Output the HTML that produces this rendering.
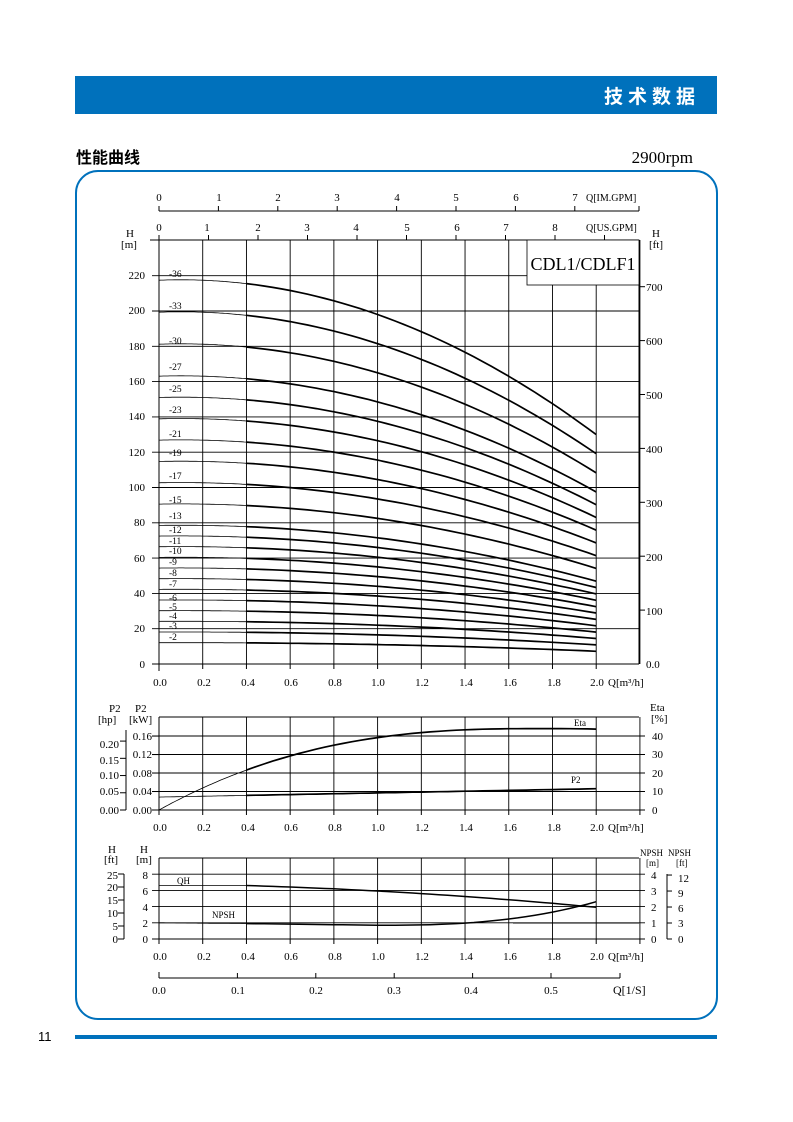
<!DOCTYPE html>
<html><head><meta charset="utf-8"><style>
body{margin:0;background:#fff;}
svg{display:block;}
</style></head><body>
<svg id="s" width="793" height="1122" viewBox="0 0 793 1122" xmlns="http://www.w3.org/2000/svg" font-family="Liberation Serif, serif" font-size="11" fill="#000">
<rect x="75" y="76" width="642" height="38" fill="#0071BC"/>
<text x="700" y="103" text-anchor="end" fill="#fff" font-family="Liberation Sans, Noto Sans CJK SC, sans-serif" font-size="19" font-weight="bold" letter-spacing="5">技术数据</text>
<text x="76" y="163" font-family="Liberation Sans, Noto Sans CJK SC, sans-serif" font-size="16" font-weight="bold">性能曲线</text>
<text x="693" y="163" text-anchor="end" font-size="17">2900rpm</text>
<rect x="76" y="171" width="641" height="848" rx="22" fill="none" stroke="#0071BC" stroke-width="2"/>
<rect x="75" y="1035" width="642" height="4" fill="#0071BC"/>
<text x="38" y="1041" font-family="Liberation Sans, sans-serif" font-size="13">11</text>
<g id="g"></g>
<g font-size="11" text-anchor="middle">
<text x="159" y="201">0</text><text x="219" y="201">1</text><text x="278" y="201">2</text><text x="337" y="201">3</text><text x="397" y="201">4</text><text x="456" y="201">5</text><text x="516" y="201">6</text><text x="575" y="201">7</text>
<text x="159" y="231">0</text><text x="207" y="231">1</text><text x="258" y="231">2</text><text x="307" y="231">3</text><text x="356" y="231">4</text><text x="407" y="231">5</text><text x="457" y="231">6</text><text x="506" y="231">7</text><text x="555" y="231">8</text>
</g>
<text x="586" y="201" font-size="10">Q[IM.GPM]</text>
<text x="586" y="231" font-size="10">Q[US.GPM]</text>
<text x="130" y="237" font-size="11" text-anchor="middle">H</text><text x="129" y="248" font-size="11" text-anchor="middle">[m]</text>
<text x="656" y="237" font-size="11" text-anchor="middle">H</text><text x="656" y="248" font-size="11" text-anchor="middle">[ft]</text>
<g font-size="11" text-anchor="end">
<text x="145" y="279">220</text><text x="145" y="314">200</text><text x="145" y="350">180</text><text x="145" y="385">160</text><text x="145" y="420">140</text><text x="145" y="456">120</text><text x="145" y="491">100</text><text x="145" y="526">80</text><text x="145" y="562">60</text><text x="145" y="597">40</text><text x="145" y="632">20</text><text x="145" y="668">0</text>
</g>
<g font-size="11">
<text x="646" y="291">700</text><text x="646" y="345">600</text><text x="646" y="399">500</text><text x="646" y="453">400</text><text x="646" y="507">300</text><text x="646" y="561">200</text><text x="646" y="615">100</text><text x="646" y="668">0.0</text>
</g>
<g font-size="9.5">
<text x="169" y="277">-36</text><text x="169" y="309">-33</text><text x="169" y="344">-30</text><text x="169" y="370">-27</text><text x="169" y="392">-25</text><text x="169" y="413">-23</text><text x="169" y="437">-21</text><text x="169" y="456">-19</text><text x="169" y="479">-17</text><text x="169" y="503">-15</text><text x="169" y="519">-13</text><text x="169" y="533">-12</text><text x="169" y="544">-11</text><text x="169" y="554">-10</text><text x="169" y="565">-9</text><text x="169" y="576">-8</text><text x="169" y="587">-7</text><text x="169" y="601">-6</text><text x="169" y="610">-5</text><text x="169" y="619">-4</text><text x="169" y="629">-3</text><text x="169" y="640">-2</text>
</g>
<g font-size="11" text-anchor="middle">
<text x="160" y="686">0.0</text><text x="204" y="686">0.2</text><text x="248" y="686">0.4</text><text x="291" y="686">0.6</text><text x="335" y="686">0.8</text><text x="378" y="686">1.0</text><text x="422" y="686">1.2</text><text x="466" y="686">1.4</text><text x="510" y="686">1.6</text><text x="554" y="686">1.8</text><text x="597" y="686">2.0</text>
<text x="160" y="831">0.0</text><text x="204" y="831">0.2</text><text x="248" y="831">0.4</text><text x="291" y="831">0.6</text><text x="335" y="831">0.8</text><text x="378" y="831">1.0</text><text x="422" y="831">1.2</text><text x="466" y="831">1.4</text><text x="510" y="831">1.6</text><text x="554" y="831">1.8</text><text x="597" y="831">2.0</text>
<text x="160" y="960">0.0</text><text x="204" y="960">0.2</text><text x="248" y="960">0.4</text><text x="291" y="960">0.6</text><text x="335" y="960">0.8</text><text x="378" y="960">1.0</text><text x="422" y="960">1.2</text><text x="466" y="960">1.4</text><text x="510" y="960">1.6</text><text x="554" y="960">1.8</text><text x="597" y="960">2.0</text>
<text x="159" y="994">0.0</text><text x="238" y="994">0.1</text><text x="316" y="994">0.2</text><text x="394" y="994">0.3</text><text x="471" y="994">0.4</text><text x="551" y="994">0.5</text>
</g>
<text x="608" y="686">Q[m³/h]</text><text x="608" y="831">Q[m³/h]</text><text x="608" y="960">Q[m³/h]</text>
<text x="613" y="994" font-size="12">Q[1/S]</text>
<text x="109" y="712">P2</text><text x="98" y="723">[hp]</text>
<text x="135" y="712">P2</text><text x="129" y="723">[kW]</text>
<text x="650" y="711">Eta</text><text x="651" y="722">[%]</text>
<g text-anchor="end">
<text x="119" y="748">0.20</text><text x="119" y="764">0.15</text><text x="119" y="779">0.10</text><text x="119" y="795">0.05</text><text x="119" y="814">0.00</text>
<text x="152" y="740">0.16</text><text x="152" y="758">0.12</text><text x="152" y="777">0.08</text><text x="152" y="795">0.04</text><text x="152" y="814">0.00</text>
</g>
<text x="652" y="740">40</text><text x="652" y="758">30</text><text x="652" y="777">20</text><text x="652" y="795">10</text><text x="652" y="814">0</text>
<text x="574" y="726" font-size="9">Eta</text><text x="571" y="783" font-size="9">P2</text>
<text x="108" y="853">H</text><text x="104" y="863">[ft]</text>
<text x="140" y="853">H</text><text x="136" y="863">[m]</text>
<text x="640" y="856" font-size="9">NPSH</text><text x="668" y="856" font-size="9">NPSH</text>
<text x="646" y="866" font-size="9">[m]</text><text x="676" y="866" font-size="9">[ft]</text>
<g text-anchor="end">
<text x="118" y="879">25</text><text x="118" y="891">20</text><text x="118" y="904">15</text><text x="118" y="917">10</text><text x="118" y="930">5</text><text x="118" y="943">0</text>
<text x="148" y="879">8</text><text x="148" y="895">6</text><text x="148" y="911">4</text><text x="148" y="927">2</text><text x="148" y="943">0</text>
</g>
<text x="651" y="879">4</text><text x="651" y="895">3</text><text x="651" y="911">2</text><text x="651" y="927">1</text><text x="651" y="943">0</text>
<text x="678" y="882">12</text><text x="678" y="897">9</text><text x="678" y="912">6</text><text x="678" y="927">3</text><text x="678" y="943">0</text>
<text x="177" y="884" font-size="9">QH</text><text x="212" y="918" font-size="9">NPSH</text>
<g id="top"><rect x="527" y="240" width="112" height="45" fill="#fff" stroke="#000" stroke-width="0.8"/>
<text x="583" y="270" font-size="18" text-anchor="middle">CDL1/CDLF1</text></g>
</svg>
<script>
var g=document.getElementById('g'),NS='http://www.w3.org/2000/svg';
function L(x1,y1,x2,y2,w,c){var e=document.createElementNS(NS,'line');e.setAttribute('x1',x1);e.setAttribute('y1',y1);e.setAttribute('x2',x2);e.setAttribute('y2',y2);e.setAttribute('stroke',c||'#000');e.setAttribute('stroke-width',w||0.8);g.appendChild(e);}
function P(d,w){var e=document.createElementNS(NS,'path');e.setAttribute('d',d);e.setAttribute('fill','none');e.setAttribute('stroke','#000');e.setAttribute('stroke-width',w);g.appendChild(e);}
function X(q){return 159+q*218.6;}
function curve(f,a,b,w){var d='';for(var i=0;i<=40;i++){var q=a+(b-a)*i/40;d+=(i?'L':'M')+X(q).toFixed(1)+' '+f(q).toFixed(1);}P(d,w);}
L(159,211,639,211,1);for(var i=0;i<8;i++)L(159+i*59.4,211,159+i*59.4,206,1);L(639,211,639,206,1);
L(150,240,639,240,1);for(var i=0;i<10;i++)L(159+i*49.5,240,159+i*49.5,235,1);
for(var q=0;q<=2.21;q+=0.2)L(X(q),240,X(q),664,0.9);
L(639,240,639,664,1);
for(var h=20;h<=220;h+=20){var y=664-h*1.765;L(152,y,639,y,0.9);}
L(152,664,639,664,1);L(159,240,159,671,1);
for(var f=100;f<=700;f+=100){var y=664-f*0.539;L(639,y,645,y,1);}
for(var q=0;q<=2.01;q+=0.2)L(X(q),664,X(q),669,1);
var st=[36,33,30,27,25,23,21,19,17,15,13,12,11,10,9,8,7,6,5,4,3,2];
st.forEach(function(n){var f=function(q){return 664-1.765*n*(6.04+0.135*q-0.675*q*q);};curve(f,0,0.4,0.8);curve(f,0.4,2.0,1.7);});
var t=717,b=810;
for(var q=0;q<=2.21;q+=0.2){L(X(q),t,X(q),b,0.9);L(X(q),b,X(q),b+5,1);}
L(159,t,639,t,1);L(159,b,639,b,1);L(159,t,159,b,1);
for(var e=10;e<=40;e+=10){var y=b-e*1.85;L(152,y,645,y,0.9);}
L(152,b,159,b,1);L(639,b,645,b,1);
for(var k=0;k<=0.16;k+=0.04)L(152,b-k*462,159,b-k*462,1);
L(126,730,126,810,1);for(var hp=0;hp<=0.2;hp+=0.05)L(120,810-hp*0.7457*462,126,810-hp*0.7457*462,1);
var eta=function(q){var v=44*(1-Math.pow(Math.abs(1-q/1.75),2.6));return b-v*1.85;};
curve(eta,0,0.4,0.8);
curve(eta,0.4,2.0,1.7);
curve(function(q){return b-(0.028+0.009*q)*462;},0,0.4,0.8);
curve(function(q){return b-(0.028+0.009*q)*462;},0.4,2.0,1.7);
t=858;b=939;
for(var q=0;q<=2.21;q+=0.2){L(X(q),t,X(q),b,0.9);L(X(q),b,X(q),b+5,1);}
L(159,t,639,t,1);L(159,b,639,b,1);L(159,t,159,b,1);
for(var m=2;m<=8;m+=2){var y=b-m*8.1;L(152,y,645,y,0.9);}
L(152,b,159,b,1);L(639,b,645,b,1);
L(124,874,124,939,1);for(var f=0;f<=25;f+=5)L(118,939-f*2.6,124,939-f*2.6,1);
L(667,874,667,939,1);for(var f=0;f<=12;f+=3)L(667,939-f*5.33,672,939-f*5.33,1);
L(513,923,639,923,0.9);
curve(function(q){return b-6.6*8.1;},0,0.4,0.8);
curve(function(q){return b-(6.6-0.8*(q-0.4)-0.55*(q-0.4)*(q-0.4))*8.1;},0.4,2.0,1.5);
curve(function(q){return b-(1.0-0.05*q/0.4)*16.2;},0,0.4,0.8);
curve(function(q){var v=q<1.0?0.95-0.1*(q-0.4)/0.6:0.85+1.45*Math.pow((q-1.0)/1.0,2.6);return b-v*16.2;},0.4,2.0,1.5);
L(159,978,620,978,1);for(var i=0;i<=5;i++)L(159+i*78.4,978,159+i*78.4,973,1);L(620,978,620,973,1);L(159,978,159,972,1);
</script>
</body></html>
